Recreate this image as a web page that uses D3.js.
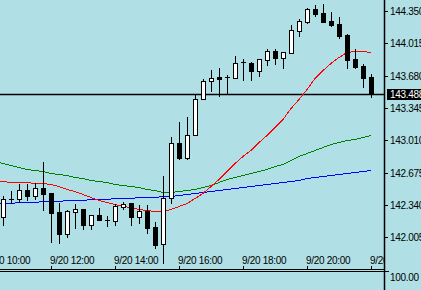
<!DOCTYPE html>
<html>
<head>
<meta charset="utf-8">
<script src="https://cdn.jsdelivr.net/npm/d3@7"></script>
<style>
  html, body { margin: 0; padding: 0; background: #b0e0e6; }
  svg { display: block; }
  text { font-family: "Liberation Sans", Arial, sans-serif; font-size: 10px; letter-spacing: -0.3px; }
</style>
</head>
<body>
<svg id="chart" width="421" height="290"></svg>
<script>
// 15 minute bars, 9/20
var maTimes = ["10:15","10:30","10:45","11:00","11:15","11:30","11:45","12:00","12:15","12:30","12:45","13:00",
  "13:15","13:30","13:45","14:00","14:15","14:30","14:45","15:00","15:15","15:30","15:45","16:00",
  "16:15","16:30","16:45","17:00","17:15","17:30","17:45","18:00","18:15","18:30","18:45","19:00",
  "19:15","19:30","19:45","20:00","20:15","20:30","20:45","21:00","21:15","21:30","21:45","22:00"];
var candleTimes = maTimes.slice(1);

var open = [142.215,142.402,142.402,142.495,142.433,142.516,142.464,142.267,142.039,142.267,
  142.298,142.132,142.236,142.184,142.174,142.319,142.360,142.215,142.277,142.112,
  141.935,142.412,142.982,142.827,143.065,143.438,143.625,143.666,143.666,143.656,
  143.822,143.811,143.728,143.842,143.935,143.863,143.915,144.143,144.236,144.371,
  144.329,144.246,144.215,144.101,143.853,143.780,143.666];
var high = [142.433,142.485,142.557,142.557,142.568,142.785,142.464,142.360,142.288,142.350,
  142.298,142.236,142.309,142.226,142.350,142.371,142.360,142.340,142.340,142.163,
  142.640,143.044,143.200,143.252,143.490,143.645,143.739,143.759,143.687,143.884,
  143.853,143.822,143.853,143.956,143.956,143.925,144.205,144.267,144.381,144.412,
  144.423,144.340,144.288,144.112,143.956,143.801,143.697];
var low = [142.132,142.360,142.371,142.391,142.402,142.288,141.956,141.946,142.008,142.101,
  142.091,142.091,142.184,142.122,142.132,142.298,142.132,142.153,142.050,141.894,
  141.739,142.360,142.816,142.816,143.065,143.438,143.521,143.469,143.500,143.656,
  143.635,143.635,143.676,143.790,143.801,143.759,143.915,144.091,144.226,144.298,
  144.236,144.195,144.070,143.759,143.759,143.562,143.459];
var close = [142.402,142.402,142.495,142.433,142.516,142.454,142.257,142.039,142.277,142.298,
  142.132,142.236,142.184,142.184,142.329,142.350,142.215,142.277,142.101,141.925,
  142.412,142.982,142.827,143.065,143.438,143.625,143.656,143.645,143.666,143.811,
  143.822,143.728,143.853,143.935,143.863,143.925,144.153,144.246,144.371,144.319,
  144.236,144.205,144.091,143.842,143.770,143.656,143.488];

// moving averages
var maRed = [142.599,142.588,142.578,142.578,142.578,142.568,142.568,142.557,142.537,142.506,
  142.485,142.454,142.423,142.392,142.371,142.350,142.329,142.319,142.298,142.288,
  142.278,142.278,142.298,142.329,142.360,142.412,142.464,142.537,142.609,142.692,
  142.775,142.847,142.910,142.993,143.065,143.148,143.231,143.345,143.438,143.542,
  143.656,143.739,143.811,143.873,143.925,143.936,143.936,143.925];
var maGreen = [142.796,142.775,142.754,142.733,142.713,142.702,142.692,142.671,142.661,142.650,
  142.630,142.619,142.599,142.588,142.578,142.557,142.547,142.537,142.526,142.506,
  142.495,142.474,142.474,142.485,142.495,142.506,142.526,142.547,142.578,142.609,
  142.630,142.650,142.671,142.692,142.713,142.744,142.765,142.806,142.847,142.878,
  142.910,142.941,142.972,142.993,143.013,143.024,143.044,143.065];
var maBlue = [142.360,142.360,142.360,142.371,142.371,142.371,142.381,142.381,142.381,142.392,
  142.392,142.392,142.402,142.402,142.402,142.412,142.412,142.412,142.423,142.423,
  142.423,142.433,142.433,142.443,142.454,142.464,142.474,142.485,142.495,142.506,
  142.516,142.526,142.537,142.547,142.557,142.568,142.578,142.588,142.599,142.619,
  142.630,142.640,142.650,142.661,142.671,142.682,142.692,142.702];

var yTicks = [144.350,144.015,143.680,143.345,143.010,142.675,142.340,142.005];
var xTickTimes = ["10:00","12:00","14:00","16:00","18:00","20:00","22:00"];
var xTickLabels = ["9/20 10:00","9/20 12:00","9/20 14:00","9/20 16:00","9/20 18:00","9/20 20:00","9/20 22:00"];
var bid = 143.488;
var subTop = "100.00";

var W = 384, H = 269;
var svg = d3.select("#chart");
var parseT = d3.timeParse("%H:%M");

var x = d3.scaleTime()
  .domain([parseT("10:00"), parseT("22:00")])
  .range([-13, 371]);
var y = d3.scaleLinear()
  .domain([142.005, 144.350])
  .range([237.3, 11]);
function py(v) { return Math.round(y(v)); }

svg.append("rect").attr("width", 421).attr("height", 290).attr("fill", "#b0e0e6");

svg.append("defs").append("clipPath").attr("id", "plotClip")
  .append("rect").attr("x", 0).attr("y", 0).attr("width", W).attr("height", H);

var plot = svg.append("g").attr("clip-path", "url(#plotClip)");

// bid line
plot.append("line")
  .attr("x1", 0).attr("x2", W)
  .attr("y1", py(bid) + 0.5).attr("y2", py(bid) + 0.5)
  .attr("stroke", "#000").attr("stroke-width", 1.3);

// moving averages
var maLine = d3.line()
  .x(function(d, i) { return x(parseT(maTimes[i])); })
  .y(function(d) { return py(d) + 0.5; });
[[maBlue, "#0000ff"], [maGreen, "#008000"], [maRed, "#ff0000"]].forEach(function(s) {
  plot.append("path")
    .attr("d", maLine(s[0]))
    .attr("fill", "none")
    .attr("stroke", s[1])
    .attr("stroke-width", 1)
    .attr("shape-rendering", "crispEdges");
});

// candles
var candles = candleTimes.map(function(t, i) {
  return { cx: Math.round(x(parseT(t))), o: open[i], h: high[i], l: low[i], c: close[i] };
});
var cg = plot.selectAll(".candle").data(candles).enter().append("g").attr("class", "candle")
  .attr("shape-rendering", "crispEdges");

cg.append("line")
  .attr("x1", function(d) { return d.cx + 0.5; })
  .attr("x2", function(d) { return d.cx + 0.5; })
  .attr("y1", function(d) { return py(d.h); })
  .attr("y2", function(d) { return py(d.l) + 1; })
  .attr("stroke", "#000");

cg.each(function(d) {
  var g = d3.select(this);
  var top = py(Math.max(d.o, d.c)), bot = py(Math.min(d.o, d.c));
  if (bot - top < 1) {
    g.append("line")
      .attr("x1", d.cx - 2).attr("x2", d.cx + 3)
      .attr("y1", top + 0.5).attr("y2", top + 0.5)
      .attr("stroke", "#000");
  } else {
    g.append("rect")
      .attr("x", d.cx - 1.5).attr("y", top + 0.5)
      .attr("width", 4).attr("height", bot - top)
      .attr("fill", d.c > d.o ? "#fff" : "#000")
      .attr("stroke", "#000");
  }
});

// right price axis
svg.append("line").attr("x1", W + 0.5).attr("x2", W + 0.5).attr("y1", 0).attr("y2", 290)
  .attr("stroke", "#000").attr("stroke-width", 1.5);
var yt = svg.selectAll(".ytick").data(yTicks).enter().append("g").attr("class", "ytick");
yt.append("line")
  .attr("x1", W).attr("x2", W + 4)
  .attr("y1", function(d) { return py(d) + 0.5; })
  .attr("y2", function(d) { return py(d) + 0.5; })
  .attr("stroke", "#000");
yt.append("text")
  .attr("x", W + 6).attr("y", function(d) { return py(d); })
  .attr("dy", "0.36em")
  .text(function(d) { return d3.format(".3f")(d); });

// bid label
svg.append("rect").attr("x", W + 3).attr("y", py(bid) - 5).attr("width", 40).attr("height", 11).attr("fill", "#000");
svg.append("text").attr("x", W + 6).attr("y", py(bid)).attr("dy", "0.38em")
  .attr("fill", "#fff").text(d3.format(".3f")(bid));

// bottom time axis
svg.append("line").attr("x1", 0).attr("x2", W).attr("y1", H + 0.5).attr("y2", H + 0.5).attr("stroke", "#000");
svg.append("line").attr("x1", 0).attr("x2", W + 5).attr("y1", H + 2.5).attr("y2", H + 2.5).attr("stroke", "#000");

var xg = svg.append("g").attr("clip-path", "url(#plotClip)");
xTickTimes.forEach(function(t, i) {
  var xx = Math.round(x(parseT(t)));
  xg.append("line").attr("x1", xx + 0.5).attr("x2", xx + 0.5).attr("y1", H - 3).attr("y2", H)
    .attr("stroke", "#000");
  xg.append("text").attr("x", xx - 1).attr("y", H - 5).text(xTickLabels[i]);
});

// sub window scale label
svg.append("text").attr("x", W + 6).attr("y", 277).attr("dy", "0.36em").text(subTop);
</script>
</body>
</html>
